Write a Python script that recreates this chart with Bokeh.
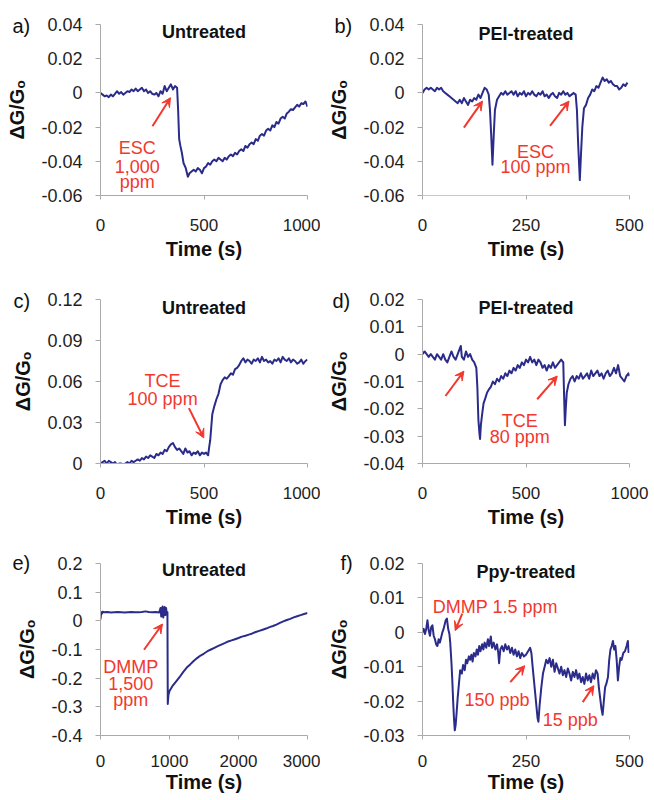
from bokeh.plotting import figure
from bokeh.models import Range1d, FixedTicker, CustomJSTickFormatter, Label, Arrow, VeeHead
from bokeh.layouts import column, row
from bokeh.embed import file_html
from bokeh.resources import INLINE

# ---------------- data ----------------
# a) Untreated, ESC 1,000 ppm
a_time = [0, 10, 20, 30, 40, 50, 60, 70, 80, 90,
          100, 110, 120, 130, 140, 150, 160, 170, 180, 190,
          200, 210, 220, 230, 240, 250, 260, 270, 280, 290,
          300, 310, 320, 330, 340, 350, 360, 370, 375, 380,
          386, 393, 401, 412, 422, 430, 440, 450, 460, 470,
          480, 490, 500, 510, 520, 530, 540, 550, 560, 570,
          580, 590, 600, 610, 620, 630, 640, 650, 660, 670,
          680, 690, 700, 710, 720, 730, 740, 750, 760, 770,
          780, 790, 800, 810, 820, 830, 840, 850, 860, 870,
          880, 890, 900, 910, 920, 930, 940, 950, 960, 970,
          980, 990, 1000]
a_dg = [0.000, -0.001, -0.002, -0.0015, -0.0025, -0.001, -0.002, -0.0005, 0.001, -0.0005,
        0.0005, -0.001, 0.000, 0.001, 0.0005, 0.002, 0.001, 0.0025, 0.001, 0.002,
        0.003, 0.001, 0.002, 0.000, 0.001, -0.0005, -0.001, 0.000, -0.002, 0.001,
        -0.0005, 0.004, 0.001, 0.003, 0.005, 0.002, 0.004, 0.003, -0.010, -0.027,
        -0.031, -0.035, -0.041, -0.044, -0.049, -0.047, -0.046, -0.045, -0.046, -0.044,
        -0.045, -0.047, -0.044, -0.043, -0.041, -0.042, -0.040, -0.039, -0.040, -0.038,
        -0.039, -0.040, -0.038, -0.039, -0.037, -0.036, -0.037, -0.035, -0.036, -0.034,
        -0.033, -0.034, -0.031, -0.032, -0.030, -0.029, -0.030, -0.027, -0.028, -0.025,
        -0.024, -0.025, -0.022, -0.021, -0.022, -0.019, -0.020, -0.017, -0.018, -0.015,
        -0.014, -0.015, -0.012, -0.011, -0.0095, -0.010, -0.0085, -0.007, -0.008, -0.006,
        -0.0065, -0.005, -0.008]

# b) PEI-treated, ESC 100 ppm
b_time = [0, 5, 10, 15, 20, 25, 30, 35, 40, 45,
          50, 55, 60, 65, 70, 75, 80, 85, 90, 95,
          100, 105, 110, 115, 120, 125, 130, 135, 140, 145,
          150, 155, 160, 163, 166, 169, 172, 175, 180, 185,
          190, 195, 200, 205, 210, 215, 220, 225, 230, 235,
          240, 245, 250, 255, 260, 265, 270, 275, 280, 285,
          290, 295, 300, 305, 310, 315, 320, 325, 330, 335,
          340, 345, 350, 355, 360, 365, 370, 373, 376, 380,
          383, 386, 390, 395, 400, 405, 410, 415, 420, 425,
          430, 435, 440, 445, 450, 455, 460, 465, 470, 475,
          480, 485, 490, 495]
b_dg = [0.000, 0.002, 0.003, 0.002, 0.003, 0.002, 0.001, 0.003, 0.002, 0.003,
        0.001, 0.000, -0.001, -0.002, -0.003, -0.004, -0.005, -0.006, -0.004, -0.006,
        -0.003, -0.005, -0.007, -0.004, -0.005, -0.003, -0.004, -0.001, -0.003, 0.000,
        0.003, 0.002, -0.001, -0.010, -0.025, -0.042, -0.025, -0.010, -0.004, -0.002,
        0.000, -0.001, 0.001, -0.001, 0.000, 0.001, -0.001, 0.001, -0.002, 0.000,
        -0.001, 0.001, -0.002, 0.000, -0.001, 0.001, -0.001, -0.002, 0.000, -0.001,
        0.001, -0.002, -0.001, -0.003, -0.001, 0.000, -0.002, -0.003, 0.000, -0.001,
        0.001, -0.001, 0.000, -0.002, -0.001, 0.000, -0.001, -0.010, -0.030, -0.051,
        -0.035, -0.020, -0.009, -0.007, -0.003, -0.001, 0.002, 0.001, 0.004, 0.003,
        0.006, 0.009, 0.007, 0.008, 0.006, 0.007, 0.005, 0.004, 0.004, 0.002,
        0.003, 0.005, 0.004, 0.006]

# c) Untreated, TCE 100 ppm
c_time = [0, 10, 20, 30, 40, 50, 60, 70, 80, 90,
          100, 110, 120, 130, 140, 150, 160, 170, 180, 190,
          200, 210, 220, 230, 240, 250, 260, 270, 280, 290,
          300, 310, 320, 330, 340, 350, 360, 370, 380, 390,
          400, 410, 420, 430, 440, 450, 460, 470, 480, 490,
          500, 510, 520, 525, 530, 540, 550, 560, 570, 580,
          590, 600, 610, 620, 630, 640, 650, 660, 670, 680,
          690, 700, 710, 720, 730, 740, 750, 760, 770, 780,
          790, 800, 810, 820, 830, 840, 850, 860, 870, 880,
          890, 900, 910, 920, 930, 940, 950, 960, 970, 980,
          990, 1000]
c_dg = [0.000, 0.001, 0.002, 0.000, 0.002, 0.001, 0.000, 0.001, -0.001, 0.000,
        0.000, -0.001, 0.000, 0.001, 0.000, 0.002, 0.001, 0.002, 0.003, 0.002,
        0.004, 0.003, 0.005, 0.004, 0.006, 0.005, 0.004, 0.007, 0.006, 0.008,
        0.007, 0.010, 0.009, 0.012, 0.014, 0.015, 0.012, 0.010, 0.011, 0.009,
        0.007, 0.011, 0.008, 0.009, 0.006, 0.008, 0.007, 0.009, 0.006, 0.008,
        0.007, 0.008, 0.006, 0.012, 0.017, 0.036, 0.042, 0.047, 0.051, 0.058,
        0.061, 0.063, 0.062, 0.064, 0.066, 0.065, 0.069, 0.070, 0.072, 0.075,
        0.077, 0.074, 0.076, 0.075, 0.073, 0.076, 0.075, 0.077, 0.074, 0.078,
        0.075, 0.076, 0.074, 0.075, 0.073, 0.076, 0.075, 0.077, 0.074, 0.078,
        0.076, 0.075, 0.077, 0.074, 0.076, 0.075, 0.073, 0.074, 0.076, 0.073,
        0.075, 0.076]

# d) PEI-treated, TCE 80 ppm
d_time = [0, 10, 20, 30, 40, 50, 60, 70, 80, 90,
          100, 110, 120, 130, 140, 150, 160, 170, 180, 185,
          190, 200, 210, 220, 230, 240, 250, 260, 265, 270,
          275, 278, 282, 288, 295, 304, 312, 320, 330, 340,
          350, 360, 370, 380, 390, 400, 410, 420, 430, 440,
          450, 460, 470, 480, 490, 500, 510, 520, 530, 540,
          550, 560, 570, 580, 590, 600, 610, 620, 630, 640,
          650, 660, 670, 680, 684, 688, 692, 697, 705, 715,
          725, 735, 745, 755, 765, 775, 785, 795, 805, 815,
          825, 835, 845, 855, 865, 875, 885, 895, 905, 915,
          925, 935, 945, 955, 965, 975, 985, 995, 1000]
d_dg = [0.000, 0.001, 0.000, -0.001, 0.000, -0.001, -0.002, 0.000, -0.001, -0.002,
        0.000, -0.002, -0.003, -0.001, 0.001, -0.001, -0.002, 0.000, 0.002, 0.003,
        -0.001, -0.002, 0.001, -0.001, 0.000, -0.002, -0.003, -0.005, -0.012, -0.024,
        -0.029, -0.031, -0.026, -0.022, -0.018, -0.016, -0.014, -0.013, -0.012, -0.010,
        -0.011, -0.009, -0.010, -0.008, -0.009, -0.007, -0.008, -0.006, -0.007, -0.005,
        -0.006, -0.004, -0.005, -0.003, -0.004, -0.002, -0.003, -0.001, -0.003, -0.002,
        -0.004, -0.002, -0.003, -0.005, -0.004, -0.006, -0.004, -0.005, -0.003, -0.005,
        -0.004, -0.003, -0.002, -0.003, -0.015, -0.026, -0.020, -0.014, -0.011, -0.009,
        -0.008, -0.010, -0.008, -0.009, -0.007, -0.009, -0.008, -0.007, -0.009, -0.006,
        -0.008, -0.007, -0.006, -0.008, -0.007, -0.009, -0.007, -0.006, -0.008, -0.007,
        -0.005, -0.007, -0.004, -0.008, -0.009, -0.010, -0.008, -0.007, -0.008]

# e) Untreated, DMMP 1,500 ppm
e_time = [0, 10, 20, 30, 50, 100, 150, 200, 250, 300,
          350, 400, 450, 500, 550, 600, 650, 700, 750, 800,
          850, 870, 880, 890, 900, 910, 920, 930, 940, 950,
          960, 970, 975, 985, 1000, 1050, 1100, 1150, 1200, 1250,
          1300, 1350, 1400, 1450, 1500, 1550, 1600, 1650, 1700, 1750,
          1800, 1850, 1900, 1950, 2000, 2050, 2100, 2150, 2200, 2250,
          2300, 2350, 2400, 2450, 2500, 2550, 2600, 2650, 2700, 2750,
          2800, 2850, 2900, 2950, 3000]
e_dg = [0.005, 0.030, 0.025, 0.032, 0.030, 0.031, 0.029, 0.030, 0.031, 0.030,
        0.029, 0.030, 0.031, 0.030, 0.030, 0.031, 0.033, 0.031, 0.030, 0.031,
        0.029, 0.045, 0.015, 0.040, 0.050, 0.012, 0.035, 0.048, 0.020, 0.045,
        0.025, 0.030, -0.290, -0.258, -0.245, -0.225, -0.210, -0.195, -0.178, -0.163,
        -0.152, -0.140, -0.130, -0.121, -0.114, -0.106, -0.100, -0.094, -0.088, -0.083,
        -0.078, -0.072, -0.068, -0.064, -0.060, -0.055, -0.052, -0.048, -0.044, -0.039,
        -0.035, -0.031, -0.027, -0.022, -0.018, -0.013, -0.007, -0.002, 0.003, 0.007,
        0.012, 0.016, 0.020, 0.024, 0.027]

# f) Ppy-treated, DMMP 1.5 ppm / 150 ppb / 15 ppb
f_time = [0, 3, 6, 9, 12, 15, 18, 21, 24, 27,
          30, 33, 36, 39, 42, 45, 48, 51, 54, 56,
          59, 62, 65, 67, 70, 72, 74, 76, 78, 80,
          82, 85, 88, 91, 95, 98, 102, 105, 108, 112,
          115, 118, 121, 124, 128, 131, 134, 137, 140, 144,
          147, 150, 154, 158, 161, 165, 168, 172, 176, 180,
          183, 185, 188, 192, 196, 200, 204, 208, 212, 216,
          220, 224, 228, 232, 236, 240, 245, 250, 255, 260,
          263, 266, 270, 274, 278, 280, 283, 287, 291, 295,
          299, 303, 307, 311, 315, 319, 323, 327, 331, 335,
          339, 343, 347, 351, 355, 359, 363, 367, 371, 375,
          379, 383, 387, 391, 395, 399, 403, 407, 411, 415,
          419, 423, 426, 429, 432, 435, 438, 441, 444, 448,
          451, 454, 457, 460, 463, 466, 469, 472, 475, 478,
          481, 485, 489, 493, 496, 498]
f_dg = [0.000, 0.001, -0.0005, 0.001, 0.0035, 0.0005, -0.001, 0.0015, 0.002, -0.001,
        -0.002, -0.0035, -0.004, -0.002, -0.003, -0.0015, 0.000, 0.001, 0.0025, 0.0035,
        0.004, 0.001, -0.0005, -0.003, -0.009, -0.014, -0.020, -0.025, -0.0285, -0.027,
        -0.024, -0.019, -0.015, -0.011, -0.012, -0.0095, -0.011, -0.008, -0.009, -0.007,
        -0.008, -0.0065, -0.0085, -0.006, -0.007, -0.005, -0.0065, -0.004, -0.0055, -0.0035,
        -0.005, -0.003, -0.0045, -0.002, -0.004, -0.0012, -0.0045, -0.003, -0.005, -0.0035,
        -0.006, -0.009, -0.005, -0.004, -0.0055, -0.0035, -0.005, -0.004, -0.006, -0.0045,
        -0.0065, -0.005, -0.007, -0.0055, -0.0075, -0.006, -0.007, -0.0065, -0.0055, -0.0045,
        -0.006, -0.010, -0.015, -0.020, -0.025, -0.026, -0.021, -0.016, -0.012, -0.010,
        -0.008, -0.009, -0.0075, -0.010, -0.008, -0.0115, -0.009, -0.0105, -0.012, -0.010,
        -0.0125, -0.011, -0.013, -0.0105, -0.012, -0.014, -0.0115, -0.013, -0.011, -0.0135,
        -0.012, -0.0145, -0.013, -0.015, -0.012, -0.014, -0.0125, -0.0145, -0.012, -0.0135,
        -0.011, -0.012, -0.016, -0.019, -0.022, -0.024, -0.020, -0.016, -0.015, -0.013,
        -0.008, -0.005, -0.004, -0.0025, -0.005, -0.004, -0.008, -0.014, -0.010, -0.0075,
        -0.008, -0.006, -0.0055, -0.004, -0.0025, -0.006]

# tick values and labels
x1000_ticks = [0, 500, 1000]
x1000_labels = ["0", "500", "1000"]
x500_ticks = [0, 250, 500]
x500_labels = ["0", "250", "500"]
x3000_ticks = [0, 1000, 2000, 3000]
x3000_labels = ["0", "1000", "2000", "3000"]
yab_ticks = [-0.06, -0.04, -0.02, 0, 0.02, 0.04]
yab_labels = ["-0.06", "-0.04", "-0.02", "0", "0.02", "0.04"]
yc_ticks = [0, 0.03, 0.06, 0.09, 0.12]
yc_labels = ["0", "0.03", "0.06", "0.09", "0.12"]
yd_ticks = [-0.04, -0.03, -0.02, -0.01, 0, 0.01, 0.02]
yd_labels = ["-0.04", "-0.03", "-0.02", "-0.01", "0", "0.01", "0.02"]
ye_ticks = [-0.4, -0.3, -0.2, -0.1, 0, 0.1, 0.2]
ye_labels = ["-0.4", "-0.3", "-0.2", "-0.1", "0", "0.1", "0.2"]
yf_ticks = [-0.03, -0.02, -0.01, 0, 0.01, 0.02]
yf_labels = ["-0.03", "-0.02", "-0.01", "0", "0.01", "0.02"]

# ---------------- styling ----------------
FONT = "Liberation Sans"
NAVY = "#2b2c8a"
RED = "#f2382e"
AXIS = "#aaaaaa"
FMT_CODE = """
for (let i = 0; i < tv.length; i++) {
    if (Math.abs(tv[i] - tick) < 1e-9) { return tl[i]; }
}
return '';
"""


def make_panel(t, v, xr, yr, xticks, xlabels, yticks, ylabels, title, tag,
               W, H, L, T, fw, fh, tag_dx, tag_standoff, title_dy, notes, arrows,
               xaxis_color=AXIS, xlab_standoff=19, xtitle_standoff=4):
    R = W - L - fw
    B = H - T - fh
    p = figure(width=W, height=H, x_range=Range1d(*xr), y_range=Range1d(*yr),
               output_backend="svg", toolbar_location=None, title=tag,
               min_border_left=L, min_border_right=R,
               min_border_top=T, min_border_bottom=B)
    p.line(t, v, line_color=NAVY, line_width=2, line_join="round")
    p.grid.visible = False
    p.outline_line_color = None
    p.background_fill_color = "white"
    p.border_fill_color = "white"

    # panel tag "a)" etc. drawn as the figure title, pulled down beside the top tick
    p.title.align = "left"
    p.title.offset = tag_dx
    p.title.standoff = tag_standoff
    p.title.text_font = FONT
    p.title.text_font_size = "20px"
    p.title.text_font_style = "normal"
    p.title.text_color = "#111111"

    for ax, tk, lb in ((p.xaxis[0], xticks, xlabels), (p.yaxis[0], yticks, ylabels)):
        ax.ticker = FixedTicker(ticks=tk, minor_ticks=[])
        ax.formatter = CustomJSTickFormatter(args=dict(tv=tk, tl=lb), code=FMT_CODE)
        ax.axis_line_color = AXIS
        ax.major_tick_line_color = AXIS
        ax.major_tick_in = 0
        ax.minor_tick_line_color = None
        ax.major_label_text_font = FONT
        ax.major_label_text_color = "#1e1e1e"
        ax.axis_label_text_font = FONT
        ax.axis_label_text_font_style = "bold"
        ax.axis_label_text_font_size = "20px"
        ax.axis_label_text_color = "#111111"
    xa = p.xaxis[0]
    xa.axis_label = "Time (s)"
    xa.axis_line_color = xaxis_color
    xa.major_tick_out = 4
    xa.major_label_standoff = xlab_standoff
    xa.axis_label_standoff = xtitle_standoff
    xa.major_label_text_font_size = "17px"
    ya = p.yaxis[0]
    ya.axis_label = "ΔG/Gₒ"
    ya.major_tick_out = 5
    ya.major_label_standoff = 13
    ya.axis_label_standoff = 10
    ya.major_label_text_font_size = "18px"

    p.add_layout(Label(x=fw / 2, y=fh - title_dy, x_units="screen", y_units="screen",
                       text=title, text_font=FONT, text_font_size="18px",
                       text_font_style="bold", text_color="#111111",
                       text_align="center", text_baseline="middle"))
    for (nx, ny, txt) in notes:
        p.add_layout(Label(x=nx, y=ny, text=txt, text_font=FONT, text_font_size="18px",
                           text_color=RED, text_align="center",
                           text_baseline="alphabetic"))
    for (x0, y0, x1, y1) in arrows:
        p.add_layout(Arrow(x_start=x0, y_start=y0, x_end=x1, y_end=y1,
                           line_color=RED, line_width=2,
                           end=VeeHead(size=9, line_color=RED, fill_color=RED,
                                       line_width=1)))
    return p


WL, WR = 320, 332
LL, LR = 100, 102
FW = 207

pa = make_panel(a_time, a_dg, (0, 1000), (-0.06, 0.04), x1000_ticks, x1000_labels,
                yab_ticks, yab_labels, "Untreated", "a)",
                WL, 270, LL, 24, FW, 173, -88, -24, 9,
                [(178, -0.032, "ESC"), (178, -0.043, "1,000"), (178, -0.052, "ppm")],
                [(251, -0.0195, 338, -0.0028)])
pb = make_panel(b_time, b_dg, (0, 500), (-0.06, 0.04), x500_ticks, x500_labels,
                yab_ticks, yab_labels, "PEI-treated", "b)",
                WR, 270, LR, 23, FW, 172, -88, -24, 10,
                [(273, -0.0348, "ESC"), (273, -0.0435, "100 ppm")],
                [(100, -0.0203, 145, -0.0048), (308, -0.0193, 354, -0.0048)],
                xaxis_color="#b9cbd9")
pc = make_panel(c_time, c_dg, (0, 1000), (0, 0.12), x1000_ticks, x1000_labels,
                yc_ticks, yc_labels, "Untreated", "c)",
                WL, 264, LL, 29, FW, 165, -87, -24, 9,
                [(300, 0.0606, "TCE"), (300, 0.047, "100 ppm")],
                [(427, 0.0405, 499, 0.0187)])
pd_ = make_panel(d_time, d_dg, (0, 1000), (-0.04, 0.02), x1000_ticks, x1000_labels,
                 yd_ticks, yd_labels, "PEI-treated", "d)",
                 WR, 264, LR, 28, FW, 165, -90, -24, 9.5,
                 [(470, -0.0244, "TCE"), (470, -0.0304, "80 ppm")],
                 [(111, -0.0153, 200, -0.0062), (554, -0.0165, 651, -0.008)])
pe = make_panel(e_time, e_dg, (0, 3000), (-0.4, 0.2), x3000_ticks, x3000_labels,
                ye_ticks, ye_labels, "Untreated", "e)",
                WL, 266, LL, 25, FW, 178, -88, -20, 12.5,
                [(437, -0.160, "DMMP"), (437, -0.219, "1,500"), (437, -0.277, "ppm")],
                [(631, -0.101, 898, -0.011)],
                xlab_standoff=15, xtitle_standoff=1)
pf = make_panel(f_time, f_dg, (0, 500), (-0.03, 0.02), x500_ticks, x500_labels,
                yf_ticks, yf_labels, "Ppy-treated", "f)",
                WR, 266, LR, 29, FW, 172, -82, -20, 8.5,
                [(176, 0.0075, "DMMP 1.5 ppm"), (180, -0.0198, "150 ppb"),
                 (357, -0.0254, "15 ppb")],
                [(96, 0.0054, 79, 0.0005), (212, -0.0145, 247, -0.0097),
                 (387, -0.0203, 414, -0.0155)],
                xlab_standoff=15, xtitle_standoff=1)

layout = column(row(pa, pb), row(pc, pd_), row(pe, pf))
with open("out.html", "w") as fh_out:
    fh_out.write(file_html(layout, INLINE))
